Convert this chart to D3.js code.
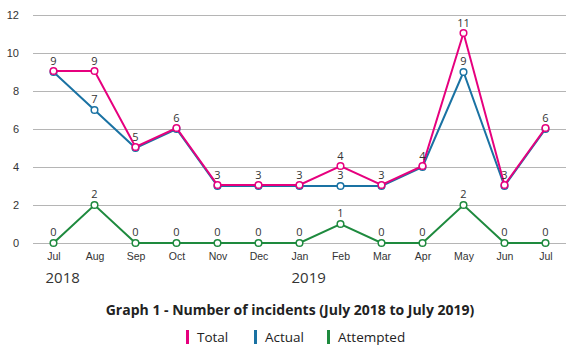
<!DOCTYPE html>
<html>
<head>
<meta charset="utf-8">
<script src="https://cdn.jsdelivr.net/npm/d3@7"></script>
<style>
  body { margin: 0; background: #fff; }
  svg { font-family: "Open Sans", "Noto Sans", sans-serif; }
</style>
</head>
<body>
<svg id="chart" width="567" height="353"></svg>
<script>
// data
var months = ["Jul", "Aug", "Sep", "Oct", "Nov", "Dec", "Jan", "Feb", "Mar", "Apr", "May", "Jun", "Jul"];
var total = [9, 9, 5, 6, 3, 3, 3, 4, 3, 4, 11, 3, 6];
var actual = [9, 7, 5, 6, 3, 3, 3, 3, 3, 4, 9, 3, 6];
var attempted = [0, 2, 0, 0, 0, 0, 0, 1, 0, 0, 2, 0, 0];
var yTicks = [0, 2, 4, 6, 8, 10, 12];
var years = [{label: "2018", at: 0}, {label: "2019", at: 6}];

var svg = d3.select("#chart");
var txt = "#333";

var x = d3.scalePoint().domain(d3.range(months.length)).range([33, 566]).padding(0.5);
var y = d3.scaleLinear().domain([0, 12]).range([243, 15]);

// gridlines + y labels
var yAxis = d3.axisLeft(y).tickValues(yTicks).tickSize(-533).tickPadding(14);
svg.append("g")
    .attr("transform", "translate(33,0)")
    .call(yAxis)
    .call(function(g) {
      g.select(".domain").remove();
      g.selectAll(".tick line").attr("stroke", "#b5b5b5").attr("stroke-width", 1);
      g.selectAll(".tick text").attr("fill", txt).style("font-size", "11px");
    });

// month labels
var xAxis = d3.axisBottom(x).tickFormat(function(i) { return months[i]; }).tickSize(0).tickPadding(10);
svg.append("g")
    .attr("transform", "translate(0,243)")
    .call(xAxis)
    .call(function(g) {
      g.select(".domain").remove();
      g.selectAll(".tick text").attr("fill", txt).style("font-size", "10.5px");
    });

svg.selectAll(".year")
    .data(years)
    .enter().append("text")
    .attr("class", "year")
    .attr("x", function(d) { return x(d.at) - 8; })
    .attr("y", 283)
    .attr("fill", txt)
    .style("font-size", "15px")
    .text(function(d) { return d.label; });

var series = [
  {name: "Attempted", values: attempted, color: "#1e8a3e", dy: 0},
  {name: "Actual", values: actual, color: "#1a72a3", dy: 0},
  {name: "Total", values: total, color: "#e6007e", dy: -1}
];

var line = d3.line()
    .x(function(d, i) { return x(i); })
    .y(function(d) { return y(d); });

series.forEach(function(s) {
  var g = svg.append("g").attr("transform", "translate(0," + s.dy + ")");
  g.append("path")
      .datum(s.values)
      .attr("d", line)
      .attr("fill", "none")
      .attr("stroke", s.color)
      .attr("stroke-width", 2);
  g.selectAll("circle")
      .data(s.values)
      .enter().append("circle")
      .attr("cx", function(d, i) { return x(i); })
      .attr("cy", function(d) { return y(d); })
      .attr("r", 3.3)
      .attr("fill", "#fff")
      .attr("stroke", s.color)
      .attr("stroke-width", 1.5);
});

// data labels: one per distinct value per month
var labels = [];
months.forEach(function(m, i) {
  var vals = [attempted[i], actual[i], total[i]];
  d3.group(vals, function(v) { return v; }).forEach(function(_, v) {
    labels.push({i: i, v: v});
  });
});
svg.selectAll(".dlabel")
    .data(labels)
    .enter().append("text")
    .attr("class", "dlabel")
    .attr("x", function(d) { return x(d.i); })
    .attr("y", function(d) { return y(d.v) - 7; })
    .attr("text-anchor", "middle")
    .attr("fill", txt)
    .style("font-size", "11px")
    .text(function(d) { return d.v; });

// title
svg.append("text")
    .attr("x", 290)
    .attr("y", 315)
    .attr("text-anchor", "middle")
    .attr("fill", "#222")
    .style("font-size", "14px")
    .style("font-weight", "bold")
    .text("Graph 1 - Number of incidents (July 2018 to July 2019)");

// legend
var legend = [
  {name: "Total", color: "#e6007e", x: 186},
  {name: "Actual", color: "#1a72a3", x: 254},
  {name: "Attempted", color: "#1e8a3e", x: 327}
];
var lg = svg.selectAll(".legend")
    .data(legend)
    .enter().append("g")
    .attr("class", "legend")
    .attr("transform", function(d) { return "translate(" + d.x + ",330)"; });
lg.append("rect")
    .attr("width", 3)
    .attr("height", 14)
    .attr("fill", function(d) { return d.color; });
lg.append("text")
    .attr("x", 11)
    .attr("y", 12)
    .attr("fill", "#222")
    .style("font-size", "13.5px")
    .text(function(d) { return d.name; });
</script>
</body>
</html>
